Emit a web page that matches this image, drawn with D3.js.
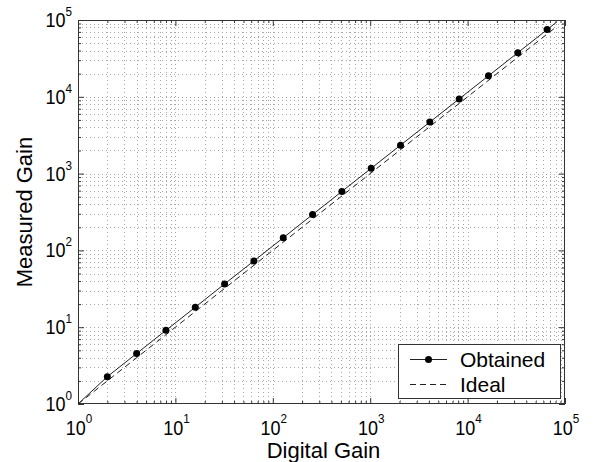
<!DOCTYPE html>
<html>
<head>
<meta charset="utf-8">
<script src="https://cdn.jsdelivr.net/npm/d3@7"></script>
<style>
  body { margin: 0; background: #fff; }
  svg { display: block; font-family: "Liberation Sans", Arial, sans-serif; }
</style>
</head>
<body>
<svg id="chart" width="599" height="462"></svg>
<script>
// ---- data ----
const digitalGain = [2, 4, 8, 16, 32, 64, 128, 256, 512, 1024, 2048, 4096, 8192, 16384, 32768, 65536];
const measuredGain = [2.27, 4.55, 9.1, 18.2, 36.6, 73, 146, 293, 586, 1172, 2345, 4690, 9380, 18760, 37520, 75000];
const obtainedStart = [1, 1];
const obtainedEnd = [82000, 94000];
const idealX = [1, 82000];
const idealY = [1, 82000];
const tickExponents = [0, 1, 2, 3, 4, 5];
const legendLabels = ["Obtained", "Ideal"];
const xLabel = "Digital Gain";
const yLabel = "Measured Gain";

// ---- layout ----
const svg = d3.select("#chart");
const L = 78, R = 565, T = 20, B = 404;

const x = d3.scaleLog().domain([1, 1e5]).range([L, R]);
const y = d3.scaleLog().domain([1, 1e5]).range([B, T]);

const allTicks = [];
for (let e = 0; e < 5; e++) {
  for (let m = 1; m < 10; m++) allTicks.push(m * Math.pow(10, e));
}
allTicks.push(1e5);
const majors = tickExponents.map(e => Math.pow(10, e));
const minors = allTicks.filter(v => !majors.includes(v));

svg.append("defs").append("clipPath").attr("id", "plotclip")
  .append("rect").attr("x", L).attr("y", T).attr("width", R - L).attr("height", B - T);

// grid
const grid = svg.append("g").attr("stroke", "#a8a8a8").attr("stroke-width", 1)
  .attr("stroke-dasharray", "1,3").attr("fill", "none");
allTicks.filter(v => v > 1 && v < 1e5).forEach(v => {
  grid.append("line").attr("x1", Math.round(x(v)) + 0.5).attr("x2", Math.round(x(v)) + 0.5)
    .attr("y1", T).attr("y2", B);
  grid.append("line").attr("y1", Math.round(y(v)) + 0.5).attr("y2", Math.round(y(v)) + 0.5)
    .attr("x1", L).attr("x2", R);
});

const axisColor = "#333";
function styleAxis(g) {
  g.select(".domain").remove();
  g.selectAll(".tick line").attr("stroke", axisColor);
  g.selectAll(".tick text").remove();
}
svg.append("g").attr("transform", `translate(0,${B})`)
  .call(d3.axisBottom(x).tickValues(majors).tickSizeInner(-6).tickSizeOuter(0)).call(styleAxis);
svg.append("g").attr("transform", `translate(0,${B})`)
  .call(d3.axisBottom(x).tickValues(minors).tickSizeInner(-3).tickSizeOuter(0)).call(styleAxis);
svg.append("g").attr("transform", `translate(0,${T})`)
  .call(d3.axisTop(x).tickValues(majors).tickSizeInner(-6).tickSizeOuter(0)).call(styleAxis);
svg.append("g").attr("transform", `translate(0,${T})`)
  .call(d3.axisTop(x).tickValues(minors).tickSizeInner(-3).tickSizeOuter(0)).call(styleAxis);
svg.append("g").attr("transform", `translate(${L},0)`)
  .call(d3.axisLeft(y).tickValues(majors).tickSizeInner(-6).tickSizeOuter(0)).call(styleAxis);
svg.append("g").attr("transform", `translate(${L},0)`)
  .call(d3.axisLeft(y).tickValues(minors).tickSizeInner(-3).tickSizeOuter(0)).call(styleAxis);
svg.append("g").attr("transform", `translate(${R},0)`)
  .call(d3.axisRight(y).tickValues(majors).tickSizeInner(-6).tickSizeOuter(0)).call(styleAxis);
svg.append("g").attr("transform", `translate(${R},0)`)
  .call(d3.axisRight(y).tickValues(minors).tickSizeInner(-3).tickSizeOuter(0)).call(styleAxis);

svg.append("rect").attr("x", L + 0.5).attr("y", T + 0.5).attr("width", R - L - 1).attr("height", B - T - 1)
  .attr("fill", "none").attr("stroke", axisColor).attr("stroke-width", 1);

// tick labels (slightly condensed like the original)
const xl = svg.append("g").attr("fill", "#000");
tickExponents.forEach(e => {
  const t = xl.append("g").attr("transform", `translate(${x(Math.pow(10, e)) + 1},435) scale(0.9,1)`)
    .append("text").attr("text-anchor", "middle").attr("font-size", 20);
  t.append("tspan").text("10");
  t.append("tspan").attr("dy", -12).attr("font-size", 13).text(String(e));
});
tickExponents.forEach(e => {
  const t = xl.append("g").attr("transform", `translate(72,${y(Math.pow(10, e)) + 7}) scale(0.9,1)`)
    .append("text").attr("text-anchor", "end").attr("font-size", 20);
  t.append("tspan").text("10");
  t.append("tspan").attr("dy", -11).attr("font-size", 13).text(String(e));
});

// axis titles
svg.append("text").attr("x", (L + R) / 2 + 2).attr("y", 458).attr("text-anchor", "middle")
  .attr("font-size", 22).text(xLabel);
svg.append("text").attr("transform", `translate(32,${(T + B) / 2}) rotate(-90)`)
  .attr("text-anchor", "middle").attr("font-size", 22).text(yLabel);

// data
const plot = svg.append("g").attr("clip-path", "url(#plotclip)");
const line = d3.line().x(d => x(d[0])).y(d => y(d[1]));
const idealPts = idealX.map((v, i) => [v, idealY[i]]);
plot.append("path").datum(idealPts).attr("d", line)
  .attr("fill", "none").attr("stroke", "#222").attr("stroke-width", 1).attr("stroke-dasharray", "6,4");
const obtPts = [obtainedStart].concat(digitalGain.map((v, i) => [v, measuredGain[i]])).concat([obtainedEnd]);
plot.append("path").datum(obtPts).attr("d", line)
  .attr("fill", "none").attr("stroke", "#222").attr("stroke-width", 1);
svg.append("g").selectAll("circle").data(digitalGain).join("circle")
  .attr("cx", d => x(d)).attr("cy", (d, i) => y(measuredGain[i])).attr("r", 3.5).attr("fill", "#000");

// legend
const lg = svg.append("g");
lg.append("rect").attr("x", 398.5).attr("y", 344.5).attr("width", 162).attr("height", 54)
  .attr("fill", "#fff").attr("stroke", axisColor).attr("stroke-width", 1);
lg.append("line").attr("x1", 410).attr("x2", 447).attr("y1", 359.5).attr("y2", 359.5)
  .attr("stroke", "#222").attr("stroke-width", 1);
lg.append("circle").attr("cx", 428.5).attr("cy", 359.5).attr("r", 3.5).attr("fill", "#000");
lg.append("line").attr("x1", 410).attr("x2", 447).attr("y1", 384.5).attr("y2", 384.5)
  .attr("stroke", "#222").attr("stroke-width", 1).attr("stroke-dasharray", "6,4");
lg.append("text").attr("x", 460).attr("y", 367).attr("font-size", 21).text(legendLabels[0]);
lg.append("text").attr("x", 460).attr("y", 392).attr("font-size", 21).text(legendLabels[1]);
</script>
</body>
</html>
